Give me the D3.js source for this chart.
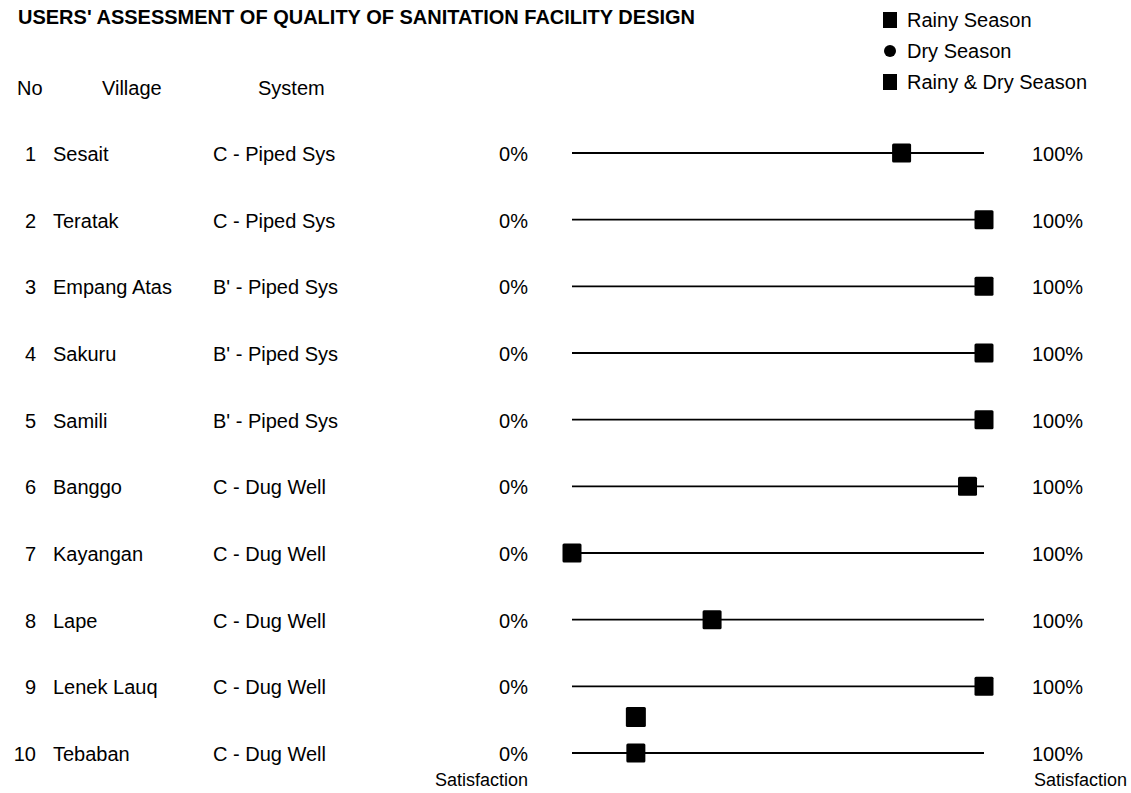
<!DOCTYPE html>
<html>
<head>
<meta charset="utf-8">
<script src="https://cdn.jsdelivr.net/npm/d3@7"></script>
<style>
  body { margin: 0; background: #fff; }
  text { font-family: "Liberation Sans", Arial, sans-serif; fill: #000; }
</style>
</head>
<body>
<div id="chart"></div>
<script>
// data
const nos = [1, 2, 3, 4, 5, 6, 7, 8, 9, 10];
const villages = ["Sesait", "Teratak", "Empang Atas", "Sakuru", "Samili", "Banggo", "Kayangan", "Lape", "Lenek Lauq", "Tebaban"];
const systems = ["C - Piped Sys", "C - Piped Sys", "B' - Piped Sys", "B' - Piped Sys", "B' - Piped Sys",
                 "C - Dug Well", "C - Dug Well", "C - Dug Well", "C - Dug Well", "C - Dug Well"];
// satisfaction, rainy & dry season (marker on the line)
const bothSeason = [80, 100, 100, 100, 100, 96, 0, 34, 100, 15.5];
// rainy season only, where it is drawn apart (row 10)
const rainyOnly = [null, null, null, null, null, null, null, null, null, 15.5];
const legendLabels = ["Rainy Season", "Dry Season", "Rainy & Dry Season"];

const width = 1131, height = 793;
const fs = 20;

const svg = d3.select("#chart").append("svg")
  .attr("width", width)
  .attr("height", height);

const x = d3.scaleLinear().domain([0, 100]).range([572, 984]);
const y = d3.scalePoint().domain(nos).range([153, 753]);

// title
svg.append("text")
  .attr("x", 18).attr("y", 24)
  .attr("font-size", fs).attr("font-weight", "bold")
  .text("USERS' ASSESSMENT OF QUALITY OF SANITATION FACILITY DESIGN");

// headers
const headers = [["No", 17], ["Village", 102], ["System", 258]];
svg.selectAll(".hdr").data(headers).enter().append("text")
  .attr("class", "hdr")
  .attr("x", d => d[1]).attr("y", 95)
  .attr("font-size", fs)
  .text(d => d[0]);

// legend
const leg = svg.append("g");
legendLabels.forEach((lab, i) => {
  const ly = 20 + i * 31;
  if (i === 1) {
    leg.append("circle").attr("cx", 890).attr("cy", ly).attr("r", 6).attr("fill", "#000");
  } else {
    leg.append("rect").attr("x", 883).attr("y", ly - 8).attr("width", 14).attr("height", 16).attr("fill", "#000");
  }
  leg.append("text").attr("x", 907).attr("y", ly + 7).attr("font-size", fs).text(lab);
});

// rows
const rows = svg.selectAll(".row").data(nos).enter().append("g").attr("class", "row");

rows.append("text")
  .attr("x", 36).attr("y", d => y(d) + 8)
  .attr("text-anchor", "end").attr("font-size", fs)
  .text(d => d);

rows.append("text")
  .attr("x", 53).attr("y", d => y(d) + 8)
  .attr("font-size", fs)
  .text((d, i) => villages[i]);

rows.append("text")
  .attr("x", 213).attr("y", d => y(d) + 8)
  .attr("font-size", fs)
  .text((d, i) => systems[i]);

rows.append("text")
  .attr("x", 528).attr("y", d => y(d) + 8)
  .attr("text-anchor", "end").attr("font-size", fs)
  .text("0%");

rows.append("text")
  .attr("x", 1032).attr("y", d => y(d) + 8)
  .attr("font-size", fs)
  .text("100%");

rows.append("line")
  .attr("x1", x(0)).attr("x2", x(100))
  .attr("y1", d => y(d)).attr("y2", d => y(d))
  .attr("stroke", "#000").attr("stroke-width", 1.8);

const ms = 19;
rows.append("rect")
  .attr("x", (d, i) => x(bothSeason[i]) - ms / 2)
  .attr("y", d => y(d) - ms / 2)
  .attr("width", ms).attr("height", ms)
  .attr("rx", 1.5)
  .attr("fill", "#000");

rows.filter((d, i) => rainyOnly[i] != null).append("rect")
  .attr("x", d => x(rainyOnly[nos.indexOf(d)]) - 10)
  .attr("y", d => y(d) - 46)
  .attr("width", 20).attr("height", 20)
  .attr("rx", 1.5)
  .attr("fill", "#000");

// bottom labels
svg.append("text").attr("x", 528).attr("y", 786).attr("text-anchor", "end")
  .attr("font-size", 18).text("Satisfaction");
svg.append("text").attr("x", 1127).attr("y", 786).attr("text-anchor", "end")
  .attr("font-size", 18).text("Satisfaction");
</script>
</body>
</html>
